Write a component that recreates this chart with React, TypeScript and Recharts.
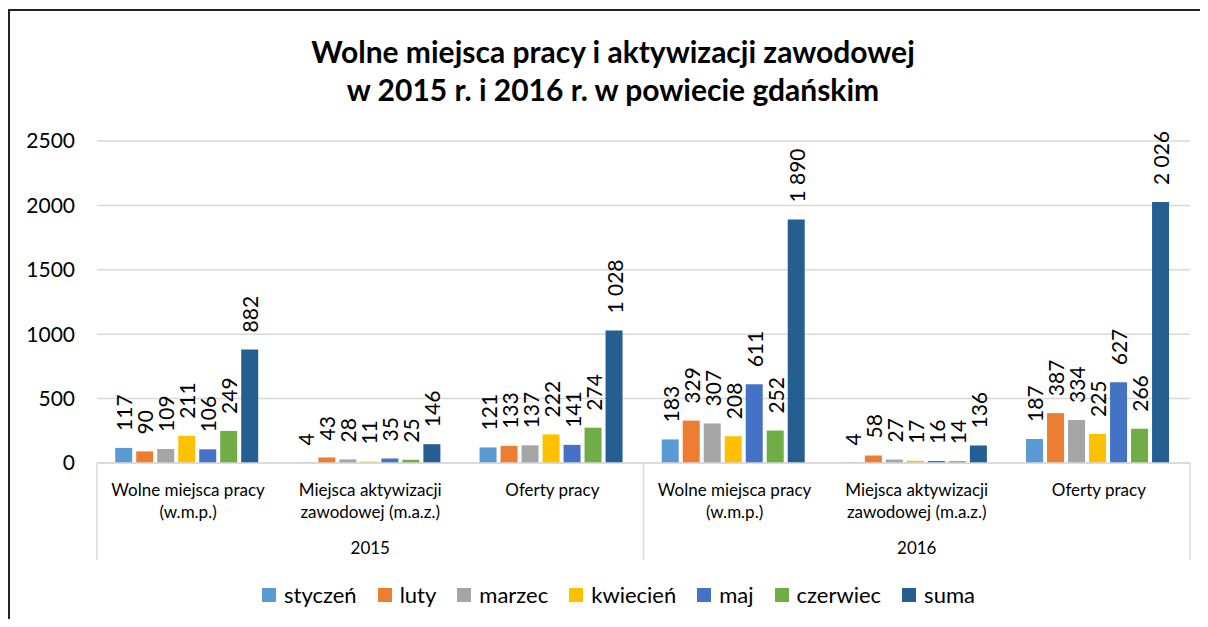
import React from "react";
import {
  BarChart,
  Bar,
  XAxis,
  YAxis,
  CartesianGrid,
  Legend,
  LabelList,
} from "recharts";

const categories = [
  "Wolne miejsca pracy\n(w.m.p.)",
  "Miejsca aktywizacji\nzawodowej (m.a.z.)",
  "Oferty pracy",
  "Wolne miejsca pracy\n(w.m.p.)",
  "Miejsca aktywizacji\nzawodowej (m.a.z.)",
  "Oferty pracy",
];
const years = ["2015", "2015", "2015", "2016", "2016", "2016"];

const seriesNames = ["styczeń", "luty", "marzec", "kwiecień", "maj", "czerwiec", "suma"];
const styczen = [117, 4, 121, 183, 4, 187];
const luty = [90, 43, 133, 329, 58, 387];
const marzec = [109, 28, 137, 307, 27, 334];
const kwiecien = [211, 11, 222, 208, 17, 225];
const maj = [106, 35, 141, 611, 16, 627];
const czerwiec = [249, 25, 274, 252, 14, 266];
const suma = [882, 146, 1028, 1890, 136, 2026];

const yTicks = [0, 500, 1000, 1500, 2000, 2500];

const COLORS = ["#5B9BD5", "#ED7D31", "#A5A5A5", "#FFC000", "#4472C4", "#70AD47", "#255E91"];
const FONT = "Lato, 'Open Sans', sans-serif";
const GRID = "#D9D9D9";

// no scrollbars in the screenshot
if (typeof document !== "undefined") {
  document.documentElement.style.overflow = "hidden";
}

const seriesValues = [styczen, luty, marzec, kwiecien, maj, czerwiec, suma];
const keys = seriesNames.map((_, i) => `s${i}`);

const data = categories.map((cat, i) => {
  const row: any = { cat, year: years[i] };
  seriesValues.forEach((vals, j) => {
    row[keys[j]] = vals[i];
  });
  return row;
});

const fmt = (v: number) => String(v).replace(/\B(?=(\d{3})+(?!\d))/g, " ");

// rotated label sitting a bit above the bar top
const ValueLabel = (props: any) => {
  const { x, y, width, value } = props;
  const cx = Number(x) + Number(width) / 2;
  const ty = Number(y) - 17;
  return (
    <text
      x={cx}
      y={ty}
      transform={`rotate(-90 ${cx} ${ty})`}
      textAnchor="start"
      dominantBaseline="central"
      fontSize={21}
      fontFamily={FONT}
      fill="#000"
    >
      {fmt(value)}
    </text>
  );
};

const CategoryTick = (props: any) => {
  const { x, y, payload, index } = props;
  const half = payload?.offset || 91;
  const lines = String(payload.value).split("\n");
  return (
    <g>
      {lines.map((l, i) => (
        <text
          key={i}
          x={x}
          y={y + 33 + i * 22}
          textAnchor="middle"
          fontSize={17}
          fontFamily={FONT}
          fill="#000"
        >
          {l}
        </text>
      ))}
      {(index === 0 || index === 3) && (
        <line x1={x - half} x2={x - half} y1={y} y2={y + 97} stroke={GRID} strokeWidth={1.5} />
      )}
      {index === 5 && (
        <line x1={x + half} x2={x + half} y1={y} y2={y + 97} stroke={GRID} strokeWidth={1.5} />
      )}
    </g>
  );
};

const YearTick = (props: any) => {
  const { x, y, payload, index } = props;
  if (index % 3 !== 1) return <g />;
  return (
    <text x={x} y={y + 19} textAnchor="middle" fontSize={17} fontFamily={FONT} fill="#000">
      {payload.value}
    </text>
  );
};

const LegendContent = () => (
  <div
    style={{
      height: 49,
      display: "flex",
      justifyContent: "center",
      alignItems: "center",
      paddingLeft: 31,
      fontFamily: FONT,
      fontSize: 22,
      color: "#000",
    }}
  >
    {seriesNames.map((n, i) => (
      <div key={n} style={{ display: "flex", alignItems: "center", marginRight: 21 }}>
        <span style={{ width: 14, height: 14, background: COLORS[i], marginRight: 8 }} />
        <span>{n}</span>
      </div>
    ))}
  </div>
);

export default function App() {
  return (
    <div style={{ position: "relative", width: 1192, height: 611, fontFamily: FONT }}>
      <div
        style={{
          position: "absolute",
          left: 0,
          top: 1,
          width: 1200,
          height: 618,
          borderLeft: "2px solid #222",
          borderTop: "2px solid #222",
          boxSizing: "border-box",
        }}
      />
      <div
        style={{
          position: "absolute",
          left: 0,
          top: 24,
          width: 1200,
          paddingLeft: 10,
          boxSizing: "border-box",
          textAlign: "center",
          fontWeight: 700,
          fontSize: 30,
          lineHeight: "38px",
          color: "#000",
        }}
      >
        Wolne miejsca pracy i aktywizacji zawodowej
        <br />w 2015 r. i 2016 r. w powiecie gdańskim
      </div>
      <BarChart
        width={1192}
        height={611}
        data={data}
        margin={{ top: 133, right: 10, left: 29, bottom: 0 }}
        barCategoryGap="10%"
        barGap={4}
      >
        <CartesianGrid vertical={false} stroke={GRID} strokeWidth={1.5} />
        <XAxis
          dataKey="cat"
          height={72}
          tickLine={false}
          tickSize={0}
          tickMargin={0}
          interval={0}
          axisLine={{ stroke: GRID, strokeWidth: 1.5 }}
          tick={<CategoryTick />}
        />
        <XAxis
          xAxisId="year"
          dataKey="year"
          height={35}
          tickLine={false}
          tickSize={0}
          tickMargin={0}
          interval={0}
          axisLine={false}
          allowDuplicatedCategory
          tick={<YearTick />}
        />
        <YAxis
          domain={[0, 2500]}
          ticks={yTicks}
          width={60}
          tickLine={false}
          axisLine={false}
          tickMargin={16}
          tick={{ fontSize: 21, fill: "#000", fontFamily: FONT }}
        />
        <Legend verticalAlign="bottom" content={<LegendContent />} />
        {keys.map((k, i) => (
          <Bar key={k} dataKey={k} name={seriesNames[i]} fill={COLORS[i]} isAnimationActive={false}>
            <LabelList dataKey={k} content={<ValueLabel />} />
          </Bar>
        ))}
      </BarChart>
    </div>
  );
}
